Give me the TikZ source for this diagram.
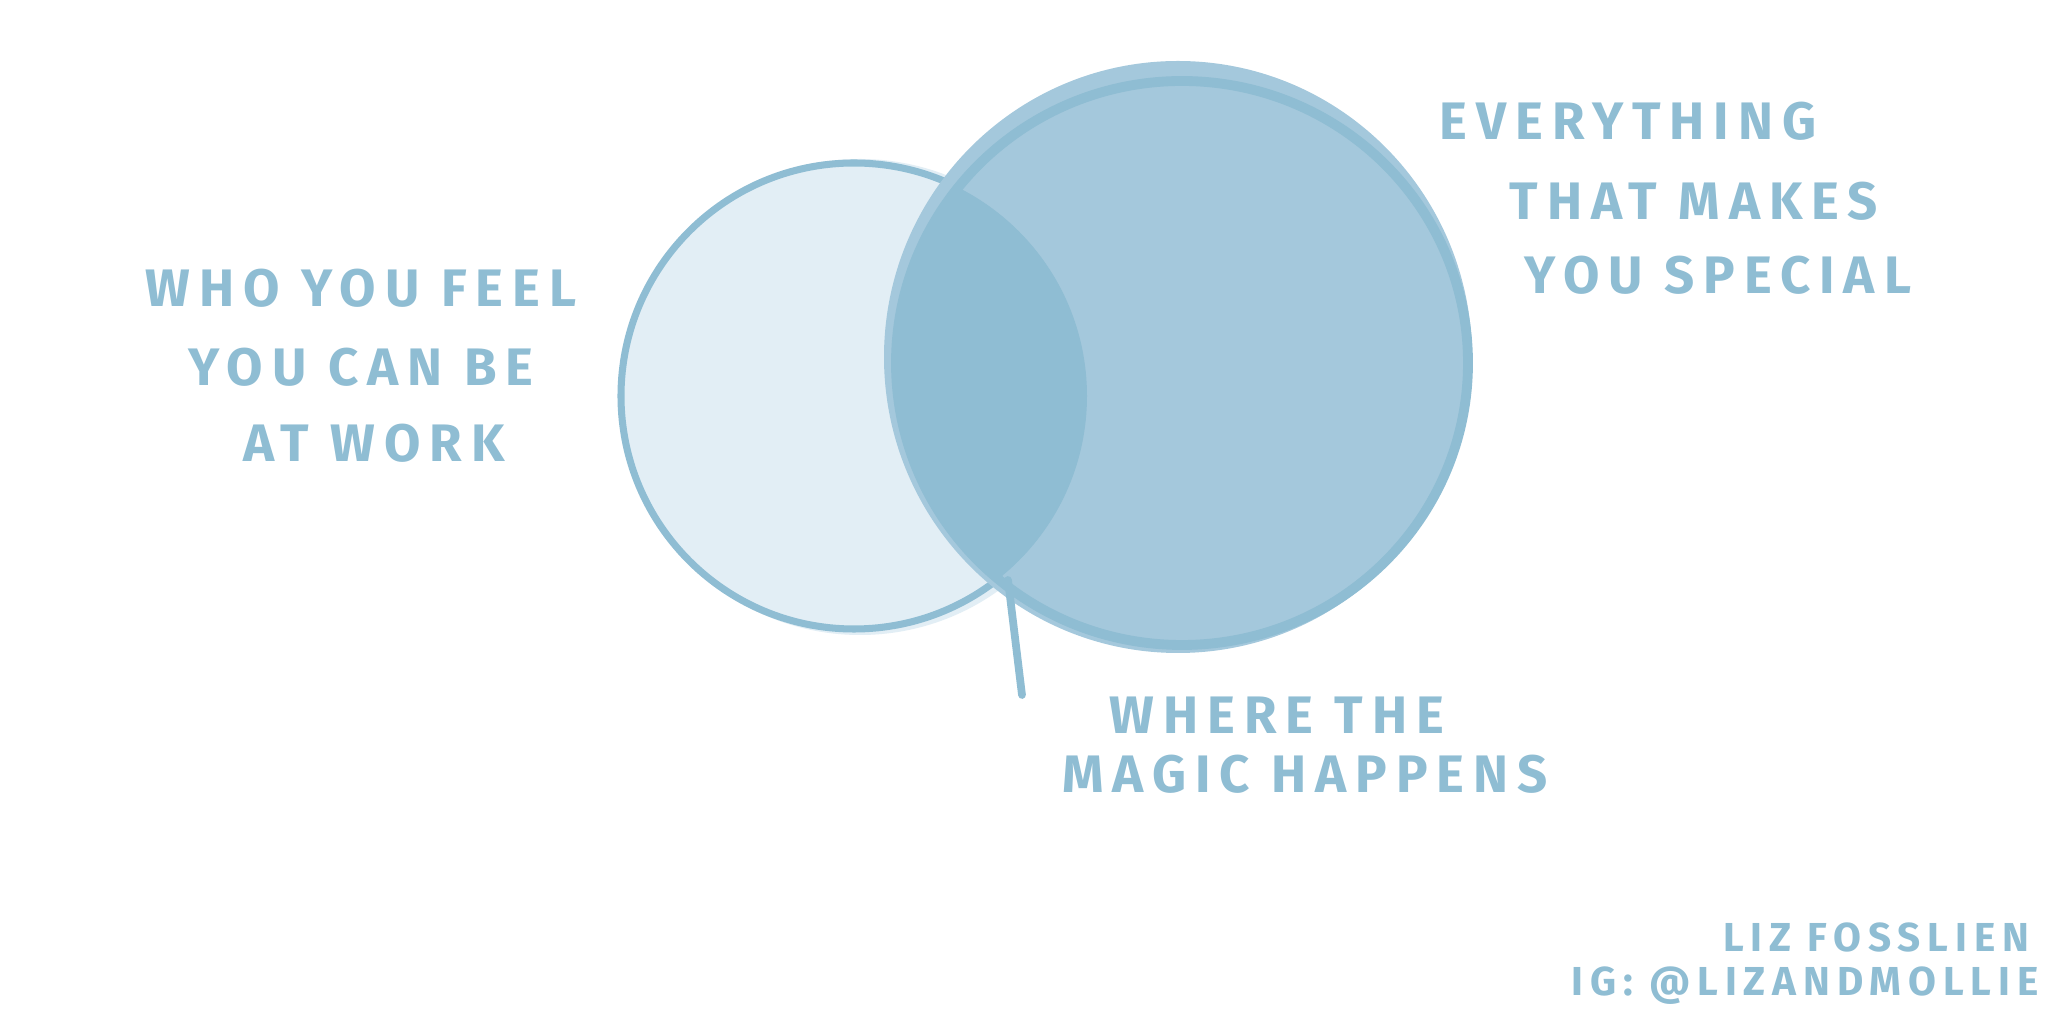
\documentclass[tikz,border=0pt]{standalone}
\usepackage{fontspec}
\setmainfont{Fira Sans}
\newfontfamily\handfont[LetterSpace=17]{Fira Sans}
\usepackage{xcolor}
\usepackage{tikz}
\usetikzlibrary{positioning}

\definecolor{vennline}{HTML}{8FBDD3}
\definecolor{vennpale}{HTML}{E2EEF5}
\definecolor{vennmid}{HTML}{A4C8DC}

\begin{document}
\begin{tikzpicture}[
  x=0.01cm, y=-0.01cm,
  line cap=round,
  font=\handfont
]
\tikzset{
    handtext/.style = {text=vennline, inner sep=0pt, font=\handfont\bfseries\fontsize{15}{18}\selectfont},
    smalltext/.style = {text=vennline, inner sep=0pt, anchor=east, font=\handfont\bfseries\fontsize{11.5}{13}\selectfont},
    ring/.style = {draw=vennline, line width=2pt},
    bigring/.style = {draw=vennline, line width=2.8pt}
}
\useasboundingbox[fill=white] (0,0) rectangle (2056,1028);

\fill[vennpale] (860,397) circle [radius=238];
\draw[ring] (854,396) circle [radius=233];
\fill[vennmid] (1178,357) ellipse [x radius=294, y radius=296];
\begin{scope}
  \clip (854,396) circle [radius=233];
  \fill[vennline] (1182,363) ellipse [x radius=286, y radius=282];
\end{scope}
\draw[bigring] (1182,363) ellipse [x radius=286, y radius=282];

\coordinate (lensbot) at (1008,580);
\coordinate (tail) at (1022,695);
\draw[vennline, line width=2.2pt] (lensbot) -- (tail);

\node[handtext] (feel1) at (361,288) {WHO YOU FEEL};
\node[handtext] (feel2) at (361,367) {YOU CAN BE};
\node[handtext] (feel3) at (374,443) {AT WORK};

\node[handtext] (spec1) at (1628,121) {EVERYTHING};
\node[handtext] (spec2) at (1694,201) {THAT MAKES};
\node[handtext] (spec3) at (1718,275) {YOU SPECIAL};

\node[handtext] (magic1) at (1277,715) {WHERE THE};
\node[handtext] (magic2) at (1305,774) {MAGIC HAPPENS};

\node[smalltext] (author) at (2030,937) {LIZ FOSSLIEN};
\node[smalltext] (insta) at (2039,986) {IG: @LIZANDMOLLIE};
\end{tikzpicture}
\end{document}
